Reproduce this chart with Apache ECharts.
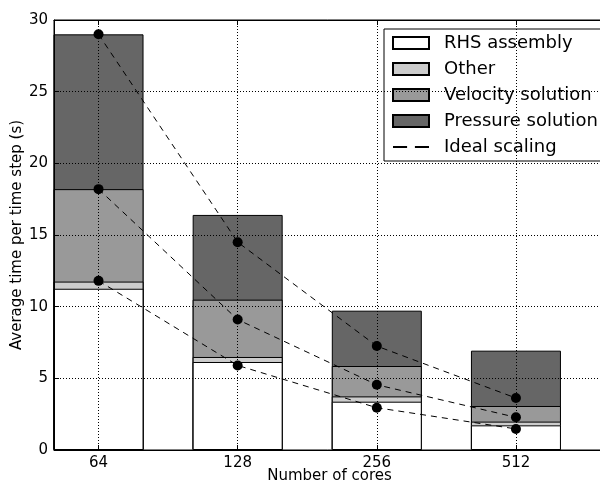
<!DOCTYPE html>
<html>
<head>
<meta charset="utf-8">
<script src="https://cdn.jsdelivr.net/npm/echarts@6/dist/echarts.min.js"></script>
<style>
  html, body { margin: 0; padding: 0; background: #fff; }
  #chart { width: 600px; height: 484px; }
</style>
</head>
<body>
<div id="chart"></div>
<script>
// cores (x positions 0..3 on the axis)
var cores = ['64', '128', '256', '512'];
var rhsAssembly = [11.25, 6.14, 3.37, 1.72];
var other = [0.5, 0.35, 0.37, 0.26];
var velocity = [6.45, 4.0, 2.12, 1.09];
var pressure = [10.8, 5.91, 3.86, 3.86];
// ideal scaling lines (from 64 cores totals)
var idealTop = [29.0, 14.5, 7.25, 3.625];
var idealMid = [18.2, 9.1, 4.55, 2.28];
var idealLow = [11.8, 5.9, 2.95, 1.47];
var yTicks = [0, 5, 10, 15, 20, 25, 30];

var font = 'DejaVu Sans';

// cumulative tops, drawn from the tallest down so each lower part covers the one above
function cumulate(parts) {
  return cores.map(function (c, i) {
    var s = 0;
    parts.forEach(function (p) { s += p[i]; });
    return s;
  });
}
var layers = [
  { name: 'Pressure solution', color: '#666666', tops: cumulate([rhsAssembly, other, velocity, pressure]) },
  { name: 'Velocity solution', color: '#999999', tops: cumulate([rhsAssembly, other, velocity]) },
  { name: 'Other', color: '#cccccc', tops: cumulate([rhsAssembly, other]) },
  { name: 'RHS assembly', color: '#ffffff', tops: cumulate([rhsAssembly]) }
];
var tickPos = cores.map(function (c, i) { return i; });

function pts(arr) {
  return arr.map(function (v, i) { return [i, v]; });
}

function barSeries(layer) {
  return {
    name: layer.name,
    type: 'bar',
    barWidth: 90,
    barGap: '-100%',
    data: pts(layer.tops),
    itemStyle: { color: layer.color, borderColor: '#000', borderWidth: 1 },
    z: 2
  };
}

function idealSeries(arr) {
  return {
    name: 'Ideal scaling',
    type: 'line',
    data: pts(arr),
    symbol: 'circle',
    symbolSize: 10,
    itemStyle: { color: '#000' },
    lineStyle: { color: '#000', width: 1, type: [6, 5] },
    z: 10
  };
}

var dotted = { show: true, lineStyle: { color: '#000', width: 1, type: [1, 2] } };

var option = {
  animation: false,
  backgroundColor: '#fff',
  textStyle: { fontFamily: font },
  grid: {
    left: 54, right: -5, top: 20, bottom: 34,
    outerBoundsMode: 'none',
    containLabel: false,
    show: true, borderColor: '#000', borderWidth: 1
  },
  legend: {
    orient: 'vertical',
    right: -4,
    left: 384,
    top: 29,
    backgroundColor: '#fff',
    borderColor: '#000',
    borderWidth: 1,
    padding: [5, 10, 5, 8],
    itemWidth: 36,
    itemHeight: 12,
    itemGap: 8,
    textStyle: { fontFamily: font, fontSize: 18, lineHeight: 18, color: '#000', padding: [0, 0, 0, 10] },
    data: [
      { name: 'RHS assembly', icon: 'rect' },
      { name: 'Other', icon: 'rect' },
      { name: 'Velocity solution', icon: 'rect' },
      { name: 'Pressure solution', icon: 'rect' },
      { name: 'Ideal scaling', icon: 'path://M6,5h9v1.2h-9z M20,5h9v1.2h-9z',
        itemStyle: { color: '#000', borderWidth: 0 } }
    ]
  },
  xAxis: [{
    type: 'value',
    min: -0.32,
    max: 3.64,
    z: 5,
    name: 'Number of cores',
    nameLocation: 'middle',
    nameGap: 26,
    nameMoveOverlap: false,
    nameTextStyle: { fontFamily: font, fontSize: 15, color: '#000', verticalAlign: 'middle' },
    axisLine: { show: true, onZero: false, lineStyle: { color: '#000' } },
    axisTick: { show: true, inside: true, length: 5, customValues: tickPos, lineStyle: { color: '#000' } },
    axisLabel: {
      customValues: tickPos,
      formatter: function (v) { return cores[Math.round(v)]; },
      fontFamily: font, fontSize: 15, color: '#000', margin: 6
    },
    splitLine: dotted
  }, {
    // top frame ticks
    type: 'value',
    position: 'top',
    min: -0.32,
    max: 3.64,
    z: 5,
    axisLine: { show: true, onZero: false, lineStyle: { color: '#000' } },
    axisTick: { show: true, inside: true, length: 5, customValues: tickPos, lineStyle: { color: '#000' } },
    axisLabel: { show: false },
    splitLine: { show: false }
  }],
  yAxis: {
    type: 'value',
    min: 0,
    max: 30,
    interval: 5,
    z: 5,
    name: 'Average time per time step (s)',
    nameLocation: 'middle',
    nameGap: 37,
    nameMoveOverlap: false,
    nameTextStyle: { fontFamily: font, fontSize: 15, color: '#000', verticalAlign: 'middle' },
    axisLine: { show: true, onZero: false, lineStyle: { color: '#000' } },
    axisTick: { show: true, inside: true, length: 5, lineStyle: { color: '#000' } },
    axisLabel: {
      formatter: function (v) { return yTicks.indexOf(v) >= 0 ? String(v) : ''; },
      fontFamily: font, fontSize: 15, color: '#000', margin: 6
    },
    splitLine: dotted
  },
  series: layers.map(barSeries).concat([
    idealSeries(idealTop),
    idealSeries(idealMid),
    idealSeries(idealLow)
  ])
};

var myChart = echarts.init(document.getElementById('chart'));
myChart.setOption(option);
</script>
</body>
</html>
